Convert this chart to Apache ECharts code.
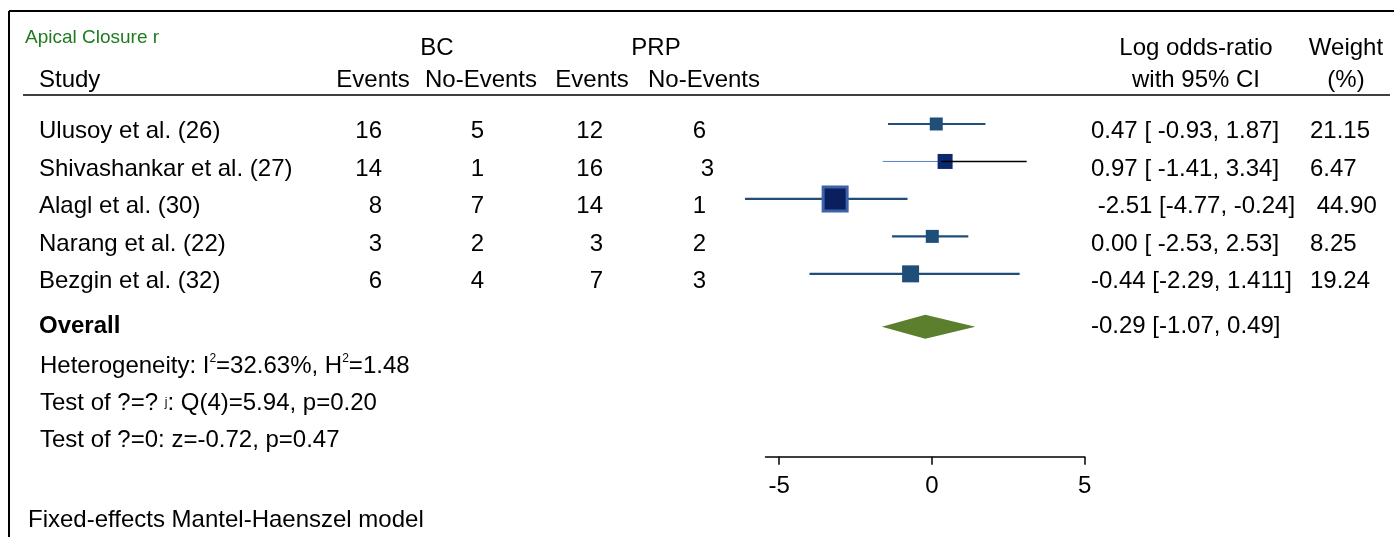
<!DOCTYPE html>
<html>
<head>
<meta charset="utf-8">
<script src="https://cdn.jsdelivr.net/npm/echarts@6/dist/echarts.min.js"></script>
<style>html,body{margin:0;padding:0;background:#fff;}#c{width:1394px;height:537px;}</style>
</head>
<body>
<div id="c"></div>
<script>
// ---- data ----
const studies = ["Ulusoy et al. (26)", "Shivashankar et al. (27)", "Alagl et al. (30)", "Narang et al. (22)", "Bezgin et al. (32)"];
const bcEvents = [16, 14, 8, 3, 6];
const bcNoEvents = [5, 1, 7, 2, 4];
const prpEvents = [12, 16, 14, 3, 7];
const prpNoEvents = [6, 3, 1, 2, 3];
const ciLabels = ["0.47 [ -0.93, 1.87]", "0.97 [ -1.41, 3.34]", " -2.51 [-4.77, -0.24]", "0.00 [ -2.53, 2.53]", "-0.44 [-2.29, 1.411]"];
const weightLabels = ["21.15", "6.47", " 44.90", "8.25", "19.24"];
// positions of the marks as drawn in the picture (log odds-ratio scale)
const plotEst = [0.14, 0.43, -3.17, 0.01, -0.70];
const plotLo = [-1.44, -1.61, -6.12, -1.31, -4.01];
const plotHi = [1.75, 3.10, -0.80, 1.19, 2.87];
const overallEst = -0.22, overallLo = -1.64, overallHi = 1.42;
const overallLabel = "-0.29 [-1.07, 0.49]";
const xTicks = [-5, 0, 5];

// ---- styles ----
const FONT = '"Liberation Sans", Arial, sans-serif';
const FS = 24;
const boxPx = [13, 15, 27, 13, 17];
const boxFill = ['#1f4e79', '#0a2a6e', '#0b1f5e', '#1f4e79', '#1f4e79'];
const lineCol = '#1f4e79';
const overallRow = 5.41;

const chart = echarts.init(document.getElementById('c'), null, {renderer: 'canvas'});

const studyData = studies.map((s, i) => [plotEst[i], plotLo[i], plotHi[i], i]);

chart.setOption({
  animation: false,
  backgroundColor: '#fff',
  grid: {left: 765.5, right: 309.3, top: 100, bottom: 80.3, containLabel: false},
  xAxis: {
    type: 'value', min: -5.45, max: 5,
    splitLine: {show: false},
    axisLine: {show: true, onZero: false, lineStyle: {color: '#000', width: 1.5}},
    axisTick: {show: true, customValues: xTicks, length: 8, lineStyle: {color: '#000', width: 1.5}},
    axisLabel: {show: true, customValues: xTicks, margin: 18, color: '#000', fontSize: FS, fontFamily: FONT}
  },
  yAxis: {type: 'value', inverse: true, min: -0.64, max: 8.88, show: false},
  series: [
    {
      type: 'custom', clip: false, data: studyData,
      renderItem: function (params, api) {
        const i = params.dataIndex;
        const pE = api.coord([api.value(0), api.value(3)]);
        const pL = api.coord([api.value(1), api.value(3)]);
        const pH = api.coord([api.value(2), api.value(3)]);
        const s = boxPx[i];
        const children = [];
        if (i === 1) {
          children.push({type: 'line', shape: {x1: pL[0], y1: pL[1], x2: pE[0], y2: pE[1]}, style: {stroke: '#5b80c4', lineWidth: 1}});
          children.push({type: 'line', shape: {x1: pE[0], y1: pE[1], x2: pH[0], y2: pH[1]}, style: {stroke: '#000', lineWidth: 1.5}});
        } else {
          children.push({type: 'line', shape: {x1: pL[0], y1: pL[1], x2: pH[0], y2: pH[1]}, style: {stroke: lineCol, lineWidth: 2.2}});
        }
        const rectStyle = {fill: boxFill[i]};
        if (i === 2) { rectStyle.stroke = '#3c62a8'; rectStyle.lineWidth = 3; }
        const inset = i === 2 ? 1.5 : 0;
        children.push({type: 'rect', shape: {x: pE[0] - s / 2 + inset, y: pE[1] - s / 2 + inset, width: s - 2 * inset, height: s - 2 * inset}, style: rectStyle});
        if (i === 1) {
          children.push({type: 'line', shape: {x1: pE[0] - 4, y1: pE[1], x2: pE[0] + s / 2, y2: pE[1]}, style: {stroke: '#000', lineWidth: 1.5}});
        }
        return {type: 'group', children: children};
      }
    },
    {
      type: 'custom', clip: false, data: [[overallEst, overallLo, overallHi, overallRow]],
      renderItem: function (params, api) {
        const y = api.value(3);
        const pE = api.coord([api.value(0), y]);
        const pL = api.coord([api.value(1), y]);
        const pH = api.coord([api.value(2), y]);
        return {type: 'polygon', shape: {points: [[pL[0], pL[1]], [pE[0], pE[1] - 12], [pH[0], pH[1]], [pE[0], pE[1] + 12]]},
          style: {fill: '#5b7f2c'}};
      }
    }
  ]
});

// ---- text table (graphic) ----
function txt(x, y, text, opt) {
  opt = opt || {};
  return {type: 'text', x: x, y: y, silent: true,
    style: Object.assign({text: text, fill: '#000', font: (opt.weight || 'normal') + ' ' + (opt.size || FS) + 'px ' + FONT,
      textAlign: opt.align || 'left', textVerticalAlign: 'middle'}, opt.style || {})};
}
const g = [];
// frame + rule
g.push({type: 'line', shape: {x1: 9, y1: 11, x2: 1394, y2: 11}, style: {stroke: '#000', lineWidth: 2}});
g.push({type: 'line', shape: {x1: 9, y1: 11, x2: 9, y2: 537}, style: {stroke: '#000', lineWidth: 2}});
g.push({type: 'line', shape: {x1: 23, y1: 95, x2: 1390, y2: 95}, style: {stroke: '#000', lineWidth: 1.5}});
// header
g.push(txt(25, 38, 'Apical Closure r', {size: 19, style: {fill: '#1e7b1e'}}));
g.push(txt(437, 48, 'BC', {align: 'center'}));
g.push(txt(656, 48, 'PRP', {align: 'center'}));
g.push(txt(39, 80, 'Study'));
g.push(txt(373, 80, 'Events', {align: 'center'}));
g.push(txt(481, 80, 'No-Events', {align: 'center'}));
g.push(txt(592, 80, 'Events', {align: 'center'}));
g.push(txt(704, 80, 'No-Events', {align: 'center'}));
g.push(txt(1196, 48, 'Log odds-ratio', {align: 'center'}));
g.push(txt(1196, 80, 'with 95% CI', {align: 'center'}));
g.push(txt(1346, 48, 'Weight', {align: 'center'}));
g.push(txt(1346, 80, '(%)', {align: 'center'}));
// rows
studies.forEach((s, i) => {
  const y = chart.convertToPixel({gridIndex: 0}, [0, i])[1] + 7.5;
  g.push(txt(39, y, s));
  g.push(txt(382, y, String(bcEvents[i]), {align: 'right'}));
  g.push(txt(484, y, String(bcNoEvents[i]), {align: 'right'}));
  g.push(txt(603, y, String(prpEvents[i]), {align: 'right'}));
  g.push(txt(i === 1 ? 714 : 706, y, String(prpNoEvents[i]), {align: 'right'}));
  g.push(txt(1091, y, ciLabels[i]));
  g.push(txt(1310, y, weightLabels[i]));
});
const yo = chart.convertToPixel({gridIndex: 0}, [0, overallRow])[1];
g.push(txt(39, yo, 'Overall', {weight: 'bold'}));
g.push(txt(1091, yo, overallLabel));
g.push({type: 'text', x: 40, y: 366, silent: true, style: {
  text: '{a|Heterogeneity: I}{s|2}{a|=32.63%, H}{s|2}{a|=1.48}', textVerticalAlign: 'middle',
  rich: {a: {fontSize: FS, fontFamily: FONT, fill: '#000'}, s: {fontSize: 12, fontFamily: FONT, fill: '#000', verticalAlign: 'top', padding: [0, 0, 14, 0]}}}});
g.push({type: 'text', x: 40, y: 403, silent: true, style: {
  text: '{a|Test of ?=? }{s|j}{a|: Q(4)=5.94, p=0.20}', textVerticalAlign: 'middle',
  rich: {a: {fontSize: FS, fontFamily: FONT, fill: '#000'}, s: {fontSize: 12, fontFamily: FONT, fill: '#000'}}}});
g.push(txt(40, 440, 'Test of ?=0: z=-0.72, p=0.47'));
g.push(txt(28, 520, 'Fixed-effects Mantel-Haenszel model'));

chart.setOption({graphic: g});
</script>
</body>
</html>
